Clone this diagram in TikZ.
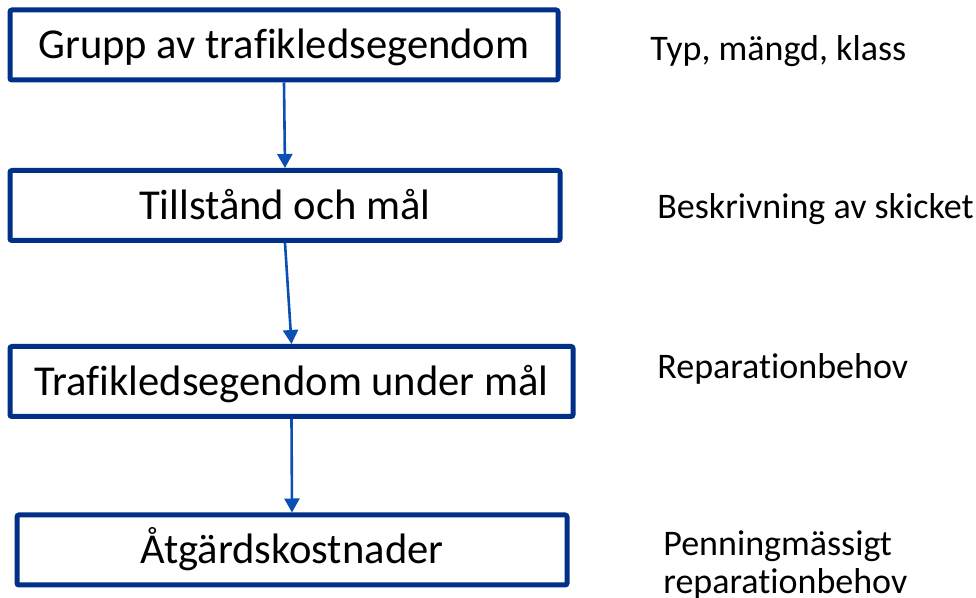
\documentclass[tikz,border=0pt]{standalone}
\usepackage{fontspec}
\setmainfont{Carlito}[Ligatures=NoCommon]
\usepackage{tikz}
\usetikzlibrary{positioning,arrows.meta,calc}
\definecolor{boxnavy}{RGB}{0,48,135}
\definecolor{flowblue}{RGB}{10,80,180}
\tikzset{
  stage/.style={draw=boxnavy, line width=2.5pt, rounded corners=1pt, fill=white,
                minimum height=35pt, inner sep=0pt, text height=14pt, text depth=0pt,
                font=\fontsize{21.3}{25}\selectfont},
  note/.style={anchor=west, inner sep=0pt, align=left,
               font=\fontsize{18}{19}\selectfont},
  flow/.style={-{Triangle[length=7pt,width=7.5pt]}, line width=1.3pt, flowblue}
}

\begin{document}
\begin{tikzpicture}[x=0.5pt, y=-0.5pt]
\useasboundingbox (0,0) rectangle (976,598);
\node (b1) [stage, minimum width=274pt] at (284,45) {Grupp av trafikledsegendom};
\node (b2) [stage, minimum width=275pt] at (285,205.5) {Tillstånd och mål};
\node (b3) [stage, minimum width=281.5pt] at (291.5,381.5) {Trafikledsegendom under mål};
\node (b4) [stage, minimum width=275pt] at (292,550) {Åtgärdskostnader};
\node (n1) [note] at (650,51) {Typ, mängd, klass};
\node (n2) [note] at (657,209) {Beskrivning av skicket};
\node (n3) [note] at (657,369) {Reparationbehov};
\node (n4) [note] at (663,565) {Penningmässigt\\reparationbehov};
\draw[flow] (b1.south) -- (b2.north);
\draw[flow] (b2.south) -- (b3.north);
\draw[flow] (b3.south) -- (b4.north);
\end{tikzpicture}
\end{document}
